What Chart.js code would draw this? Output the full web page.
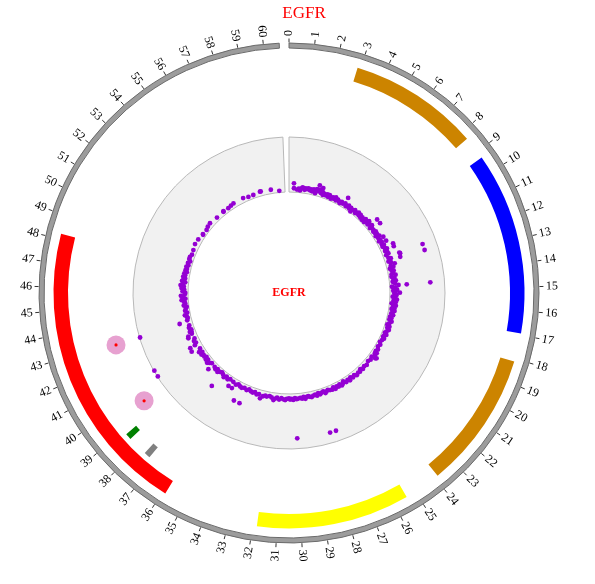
<!DOCTYPE html>
<html>
<head>
<meta charset="utf-8">
<title>EGFR</title>
<script src="https://cdn.jsdelivr.net/npm/chart.js@4/dist/chart.umd.min.js"></script>
<style>
  html, body { margin: 0; padding: 0; background: #fff; }
  #wrap { position: relative; width: 595px; height: 584px; }
  #wrap canvas { position: absolute; left: 0; top: 0; }
</style>
</head>
<body>
<div id="wrap">
  <canvas id="rings" width="595" height="584"></canvas>
  <canvas id="marks" width="595" height="584"></canvas>
</div>
<script>
// ---- data (positions are along the EGFR axis, 0..61 units around the circle) ----
const title = 'EGFR';
const axisLength = 60.62;   // drawn part of the axis ring, rest is the gap
const circleUnits = 61;     // full turn

const tickValues = [0,1,2,3,4,5,6,7,8,9,10,11,12,13,14,15,16,17,18,19,20,21,22,23,24,25,26,27,28,29,30,
  31,32,33,34,35,36,37,38,39,40,41,42,43,44,45,46,47,48,49,50,51,52,53,54,55,56,57,58,59,60];
const tickLabels = tickValues.map(String);

// coloured bands (outer track)
const bandStart = [2.87, 9.30, 18.12, 25.42, 35.87];
const bandEnd   = [8.32, 16.93, 23.87, 31.83, 48.22];
const bandColor = ['#cc8400', '#0000ff', '#cc8400', '#ffff00', '#ff0000'];

// small markers under the bands
const markerStart = [37.34, 38.53];
const markerEnd   = [37.62, 38.81];
const markerColor = ['#808080', '#008000'];

// highlighted sites (pink circles)
const highlightPos = [39.54, 42.92];

// scatter track: [position, score 0..1]
const ptsNE = [
  [0.44,0.16],[0.46,0.07],[0.75,0.05],[0.9,0.07],[1.04,0.04],[1.15,0.08],[1.25,0.1],[1.32,0.09],[1.45,0.06],
  [1.55,0.09],[1.68,0.08],[1.8,0.1],[1.95,0.07],[2.05,0.09],[2.15,0.06],[2.3,0.1],[2.4,0.08],[2.48,0.04],
  [2.58,0.12],[2.71,0.2],[2.78,0.09],[2.9,0.13],[3.0,0.07],[3.07,0.17],[3.15,0.1],[3.22,0.05],[3.35,0.08],
  [3.5,0.06],[3.62,0.09],[3.75,0.05],[3.84,0.09],[3.95,0.07],[4.05,0.04],[4.2,0.08],[4.32,0.06],[4.45,0.1],
  [4.55,0.05],[4.7,0.08],[4.85,0.06],[5.0,0.04],[5.1,0.08],[5.25,0.06],[5.4,0.2],[5.45,0.09],[5.6,0.05],
  [5.71,0.06],[5.85,0.09],[6.0,0.05],[6.12,0.08],[6.26,0.02],[6.4,0.07],[6.55,0.09],[6.7,0.05],[6.83,0.07],
  [6.95,0.1],[7.1,0.06],[7.22,0.09],[7.35,0.05],[7.48,0.08],[7.6,0.04],[7.71,0.06],[7.82,0.1],[7.9,0.04],
  [8.05,0.08],[8.15,0.12],[8.28,0.06],[8.4,0.09],[8.5,0.25],[8.6,0.11],[8.68,0.05],[8.8,0.08],[8.9,0.25]
];
const ptsE = [
  [9.02,0.08],[9.15,0.06],[9.25,0.1],[9.36,0.07],[9.5,0.09],[9.62,0.05],[9.75,0.11],[9.88,0.07],[10.03,0.16],
  [10.1,0.08],[10.2,0.05],[10.34,0.09],[10.45,0.17],[10.55,0.07],[10.68,0.1],[10.8,0.06],[10.93,0.26],
  [11.01,0.09],[11.1,0.12],[11.17,0.25],[11.25,0.07],[11.4,0.1],[11.56,0.11],[11.65,0.06],[11.84,0.3],
  [11.91,0.31],[11.84,0.75],[11.95,0.08],[12.05,0.12],[12.2,0.29],[12.27,0.75],[12.28,0.06],[12.4,0.1],
  [12.59,0.16],[12.7,0.08],[12.85,0.12],[12.95,0.05],[13.1,0.07],[13.2,0.11],[13.35,0.09],[13.5,0.06],
  [13.6,0.13],[13.73,0.05],[13.85,0.1],[13.95,0.08],[14.1,0.12],[14.2,0.06],[14.35,0.1],[14.52,0.74],
  [14.54,0.31],[14.54,0.16],[14.66,0.04],[14.75,0.1],[14.85,0.07],[14.95,0.13],[15.05,0.06],[15.15,0.1],
  [15.22,0.18],[15.3,0.08],[15.42,0.12],[15.59,0.05],[15.7,0.1],[15.74,0.09],[15.85,0.13],[15.95,0.07],
  [16.1,0.11],[16.22,0.04],[16.3,0.09],[16.4,0.12],[16.52,0.07],[16.65,0.1],[16.75,0.05],[16.9,0.11],
  [17.0,0.08],[17.15,0.06],[17.3,0.1],[17.49,0.05]
];
const ptsSE = [
  [17.6,0.08],[17.75,0.05],[17.9,0.1],[18.1,0.07],[18.25,0.04],[18.4,0.09],[18.55,0.06],[18.7,0.1],
  [18.91,0.07],[19.05,0.05],[19.2,0.09],[19.35,0.06],[19.47,0.05],[19.6,0.08],[19.8,0.06],[20.03,0.04],
  [20.25,0.07],[20.5,0.05],[20.75,0.08],[20.95,0.06],[21.1,0.1],[21.18,0.07],[21.3,0.09],[21.47,0.15],
  [21.55,0.13],[21.62,0.06],[21.9,0.08],[22.15,0.06],[22.5,0.09],[22.75,0.07],[23.0,0.09],[23.2,0.06],
  [23.37,0.09],[23.55,0.08],[23.8,0.1],[24.0,0.07],[24.2,0.09],[24.4,0.06],[24.57,0.1],[24.75,0.07],
  [24.95,0.09],[25.17,0.05],[25.3,0.08],[25.45,0.1],[25.6,0.06],[25.75,0.09],[25.93,0.07],[26.1,0.1],
  [26.25,0.06],[26.4,0.09],[26.62,0.08],[26.8,0.06],[26.96,0.08],[27.1,0.1],[27.25,0.06],[27.42,0.07],
  [27.59,0.09],[27.75,0.06],[27.9,0.1],[28.05,0.07],[28.23,0.08],[28.4,0.1],[28.56,0.09],[28.7,0.07],
  [28.86,0.08],[29.0,0.11],[29.15,0.07],[29.3,0.1],[29.45,0.08],[29.65,0.09],[29.8,0.1],[29.95,0.08],
  [30.11,0.11],[30.25,0.09],[30.4,0.1],[30.5,0.08],[30.71,0.09],[30.85,0.11],
  [27.31,0.81],[27.72,0.81],[29.95,0.81]
];
const ptsSW = [
  [31.02,0.1],[31.2,0.08],[31.4,0.11],[31.6,0.08],[31.75,0.1],[31.91,0.13],[32.1,0.09],[32.3,0.07],
  [32.56,0.09],[32.7,0.08],[32.9,0.1],[33.11,0.15],[33.3,0.08],[33.5,0.1],[33.7,0.07],[33.9,0.09],
  [34.1,0.08],[34.3,0.06],[34.5,0.09],[34.6,0.36],[34.75,0.07],[35.0,0.09],[35.1,0.36],[35.18,0.08],
  [35.4,0.06],[35.6,0.09],[35.75,0.18],[35.94,0.07],[36.1,0.18],[36.3,0.06],[36.5,0.09],[36.72,0.06],
  [36.9,0.1],[37.1,0.07],[37.23,0.36],[37.3,0.05],[37.48,0.07],[37.65,0.1],[37.8,0.06],[37.95,0.09],
  [38.15,0.07],[38.4,0.18],[38.58,0.06],[38.75,0.09],[38.9,0.12],[39.05,0.07],[39.2,0.1],[39.35,0.06],
  [39.5,0.09],[39.67,0.08],[39.8,0.11],[39.95,0.07],[40.1,0.12],[40.25,0.99],[40.34,0.07],[40.48,0.23],
  [40.67,0.99],[40.8,0.22],[40.84,0.12],[41.0,0.08],[41.2,0.1],[41.4,0.07],[41.65,0.17],[41.77,0.16],
  [41.9,0.08],[42.08,0.07],[42.12,0.1],[42.3,0.06],[42.5,0.09],[42.7,0.07],[42.93,0.99],[43.07,0.23],
  [43.2,0.08],[43.4,0.06],[43.55,0.07],[43.7,0.1],[43.9,0.05],[44.1,0.08],[44.3,0.06],[44.46,0.04],
  [44.6,0.09],[44.8,0.06]
];
const ptsNW = [
  [45.0,0.08],[45.1,0.12],[45.2,0.05],[45.4,0.09],[45.5,0.13],[45.6,0.06],[45.75,0.05],[45.9,0.1],
  [46.05,0.07],[46.2,0.12],[46.35,0.08],[46.46,0.14],[46.6,0.1],[46.75,0.06],[46.85,0.12],[46.94,0.1],
  [47.1,0.07],[47.25,0.11],[47.4,0.08],[47.55,0.1],[47.7,0.06],[47.85,0.09],[48.0,0.07],[48.19,0.09],
  [48.35,0.06],[48.55,0.08],[48.75,0.05],[48.95,0.08],[49.15,0.08],[49.4,0.06],[49.85,0.07],[50.41,0.09],
  [50.93,0.08],[51.53,0.05],[51.58,0.06],[52.09,0.05],[52.4,0.07],[52.77,0.08],[53.6,0.06],[54.41,0.06],
  [54.44,0.07],[54.97,0.06],[55.3,0.07],[55.61,0.08],[56.63,0.08],[57.12,0.06],[57.61,0.06],[58.29,0.08],
  [58.36,0.08],[59.31,0.07],[60.08,0.03]
];

// ---- layout ----
const CX = 289, CY = 293;           // circle centre in the 595x584 page
const W = 595, H = 584;
const R_OUT = 250;                  // outer edge of axis ring
const R_TICK = 252.5, R_LABEL = 257;
const R_TRACK_IN = 101, R_TRACK_OUT = 156;
const R_HIGHLIGHT = 180.6;
const NONE = 'rgba(0,0,0,0)';

function angleOf(pos) {
  return pos / circleUnits * 2 * Math.PI;
}

// polar -> chart units (the scatter scales are 1 unit per pixel, centred on the circle)
function polar(pos, r) {
  const a = angleOf(pos);
  return { x: r * Math.sin(a), y: r * Math.cos(a) };
}

function scoreRadius(v) {
  return R_TRACK_IN + v * (R_TRACK_OUT - R_TRACK_IN);
}

// turn intervals into doughnut segments with transparent gaps
function segments(starts, ends, colors) {
  const data = [], bg = [];
  let cur = 0;
  for (let i = 0; i < starts.length; i++) {
    data.push(starts[i] - cur); bg.push(NONE);
    data.push(ends[i] - starts[i]); bg.push(colors[i]);
    cur = ends[i];
  }
  data.push(circleUnits - cur); bg.push(NONE);
  return { data, backgroundColor: bg, borderWidth: 0 };
}

function spacer(w) {
  return { data: [circleUnits], backgroundColor: [NONE], borderWidth: 0, weight: w };
}

// ---- rings (doughnut, outermost dataset first) ----
new Chart(document.getElementById('rings'), {
  type: 'doughnut',
  data: {
    datasets: [
      { data: [axisLength, circleUnits - axisLength], backgroundColor: ['#9c9c9c', NONE],
        borderColor: ['#6a6a6a', NONE], borderWidth: [1, 0], weight: 5 },
      spacer(9.5),
      Object.assign(segments(bandStart, bandEnd, bandColor), { weight: 14.5 }),
      spacer(5.5),
      Object.assign(segments(markerStart, markerEnd, markerColor), { weight: 13 }),
      spacer(46.5),
      { data: [axisLength, circleUnits - axisLength], backgroundColor: ['#f1f1f1', NONE],
        borderColor: ['#b8b8b8', NONE], borderWidth: [1, 0], weight: 55 }
    ]
  },
  options: {
    responsive: false,
    animation: false,
    events: [],
    radius: R_OUT,
    cutout: (R_TRACK_IN / R_OUT * 100) + '%',
    layout: { padding: { left: 0, right: W - 2 * CX, top: 2 * CY - H, bottom: 0 } },
    plugins: { legend: { display: false }, tooltip: { enabled: false } }
  }
});

// ---- labels plugin: tick labels, title, centre label ----
const labelPlugin = {
  id: 'circleLabels',
  afterDatasetsDraw(chart) {
    const ctx = chart.ctx;
    const xs = chart.scales.x, ys = chart.scales.y;
    ctx.save();
    ctx.fillStyle = '#000';
    ctx.font = '12px "Liberation Serif", "DejaVu Serif", serif';
    ctx.textBaseline = 'middle';
    tickValues.forEach((t, i) => {
      const p = polar(t, R_LABEL);
      const a = angleOf(t);
      ctx.save();
      ctx.translate(xs.getPixelForValue(p.x), ys.getPixelForValue(p.y));
      if (a <= Math.PI) {
        ctx.rotate(a - Math.PI / 2);
        ctx.textAlign = 'left';
      } else {
        ctx.rotate(a + Math.PI / 2);
        ctx.textAlign = 'right';
      }
      ctx.fillText(tickLabels[i], 0, 0);
      ctx.restore();
    });

    ctx.fillStyle = '#ff0000';
    ctx.textAlign = 'center';
    ctx.font = '17px "Liberation Serif", "DejaVu Serif", serif';
    ctx.fillText(title, 304, 14);
    ctx.font = 'bold 12px "Liberation Serif", "DejaVu Serif", serif';
    ctx.fillText(title, xs.getPixelForValue(0), ys.getPixelForValue(0));
    ctx.restore();
  }
};

const trackPoints = [].concat(ptsNE, ptsE, ptsSE, ptsSW, ptsNW)
  .map(([pos, v]) => polar(pos, scoreRadius(v)));

// ---- marks (scatter, 1 unit = 1 px around the centre); lower order is drawn on top ----
new Chart(document.getElementById('marks'), {
  type: 'scatter',
  data: {
    datasets: [
      {
        label: 'ticks',
        order: 4,
        data: tickValues.map(t => polar(t, R_TICK)),
        pointStyle: 'line',
        pointRadius: 2,
        pointBorderColor: '#333',
        pointBorderWidth: 1,
        pointRotation: (c) => tickValues[c.dataIndex] / circleUnits * 360 - 90
      },
      {
        label: 'score',
        order: 3,
        data: trackPoints,
        pointRadius: 2.4,
        pointBackgroundColor: '#9400d3',
        pointBorderWidth: 0
      },
      {
        label: 'highlight',
        order: 2,
        data: highlightPos.map(p => polar(p, R_HIGHLIGHT)),
        pointRadius: 9.5,
        pointBackgroundColor: '#e7a1d0',
        pointBorderWidth: 0
      },
      {
        label: 'site',
        order: 1,
        data: highlightPos.map(p => polar(p, R_HIGHLIGHT)),
        pointRadius: 1.6,
        pointBackgroundColor: '#ff0000',
        pointBorderWidth: 0
      }
    ]
  },
  options: {
    responsive: false,
    animation: false,
    events: [],
    layout: { padding: 0, autoPadding: false },
    scales: {
      x: { type: 'linear', min: -CX, max: W - CX, display: false },
      y: { type: 'linear', min: -(H - CY), max: CY, display: false }
    },
    plugins: { legend: { display: false }, tooltip: { enabled: false } }
  },
  plugins: [labelPlugin]
});
</script>
</body>
</html>
